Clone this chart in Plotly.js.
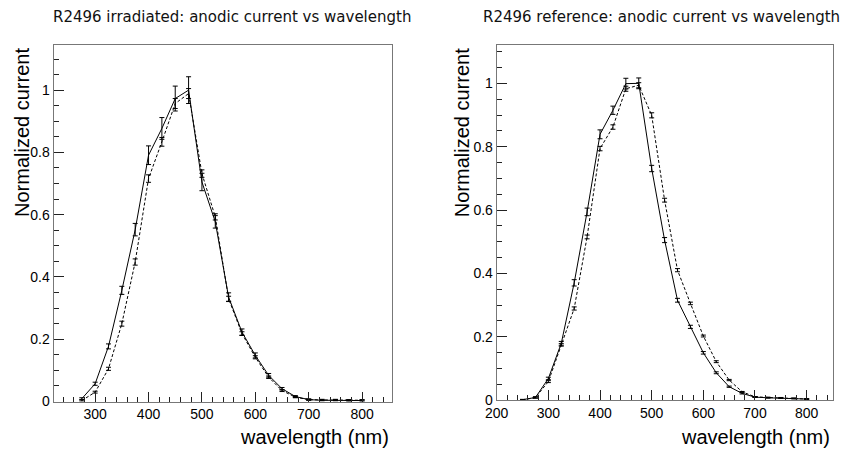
<!DOCTYPE html>
<html>
<head>
<meta charset="utf-8">
<script src="https://cdn.plot.ly/plotly-3.0.1.min.js"></script>
<style>html,body{margin:0;padding:0;background:#fff;}#chart{width:860px;height:451px;}</style>
</head>
<body>
<div id="chart"></div>
<script>
// wavelengths (nm)
const wavelength = [275,300,325,350,375,400,425,450,475,500,525,550,575,600,625,650,675,700,725,750,775,800];
const wavelengthRef = [250,275,300,325,350,375,400,425,450,475,500,525,550,575,600,625,650,675,700,725,750,775,800];

// Left panel: irradiated (solid) and second measurement (dashed)
const irrSolid = [0.009,0.057,0.177,0.357,0.552,0.791,0.877,0.973,1.0,0.705,0.577,0.335,0.223,0.148,0.084,0.041,0.016,0.006,0.004,0.004,0.003,0.003];
const irrSolidErr = [0.003,0.005,0.008,0.013,0.02,0.03,0.035,0.04,0.043,0.028,0.02,0.014,0.01,0.008,0.006,0.004,0.003,0.002,0.002,0.002,0.002,0.002];
const irrDashed = [0.003,0.03,0.105,0.25,0.448,0.716,0.834,0.957,0.989,0.732,0.593,0.33,0.218,0.142,0.078,0.035,0.014,0.006,0.005,0.005,0.004,0.004];
const irrDashedErr = [0.002,0.003,0.005,0.008,0.01,0.012,0.014,0.016,0.016,0.012,0.01,0.008,0.006,0.005,0.004,0.003,0.002,0.002,0.002,0.002,0.002,0.002];

// Right panel: reference tube
const refSolid = [0.001,0.008,0.068,0.179,0.37,0.594,0.839,0.915,0.999,1.0,0.731,0.505,0.315,0.231,0.149,0.086,0.042,0.021,0.009,0.007,0.006,0.005,0.003];
const refSolidErr = [0.001,0.002,0.004,0.006,0.01,0.012,0.014,0.013,0.017,0.017,0.01,0.008,0.006,0.005,0.004,0.003,0.002,0.002,0.001,0.001,0.001,0.001,0.001];
const refDashed = [0.0,0.008,0.058,0.174,0.289,0.515,0.794,0.862,0.983,0.994,0.899,0.631,0.41,0.305,0.202,0.121,0.063,0.026,0.01,0.008,0.007,0.005,0.003];
const refDashedErr = [0.001,0.002,0.003,0.004,0.005,0.006,0.007,0.007,0.008,0.008,0.008,0.006,0.005,0.004,0.003,0.003,0.002,0.001,0.001,0.001,0.001,0.001,0.001];

const titles = ["R2496 irradiated: anodic current vs wavelength", "R2496 reference: anodic current vs wavelength"];
const xTitle = "wavelength (nm)";
const yTitle = "Normalized current";

function tr(x, y, e, dash, xa, ya) {
  return {
    x: x, y: y, type: 'scatter', mode: 'lines', xaxis: xa, yaxis: ya,
    line: {color: '#000', width: 1, dash: dash},
    error_y: {type: 'data', array: e, visible: true, color: '#000', thickness: 1, width: 2.5},
    showlegend: false, hoverinfo: 'skip'
  };
}

const data = [
  tr(wavelength, irrDashed, irrDashedErr, '3px,2px', 'x', 'y'),
  tr(wavelength, irrSolid, irrSolidErr, 'solid', 'x', 'y'),
  tr(wavelengthRef, refDashed, refDashedErr, '3px,2px', 'x2', 'y2'),
  tr(wavelengthRef, refSolid, refSolidErr, 'solid', 'x2', 'y2')
];

const tickFont = {family: 'Liberation Sans, Arial, sans-serif', size: 14, color: '#000'};
function xax(domain, range, anchor) {
  return {domain: domain, range: range, anchor: anchor, showgrid: false, zeroline: false,
    showline: true, mirror: true, linecolor: '#777', linewidth: 1,
    ticks: 'inside', ticklen: 10, tickcolor: '#222', tickwidth: 1,
    tick0: 0, dtick: 100, tickfont: tickFont,
    minor: {ticks: 'inside', ticklen: 5, dtick: 20, tick0: 0, tickcolor: '#222', showgrid: false}};
}
function yax(domain, range, anchor) {
  return {domain: domain, range: range, anchor: anchor, showgrid: false, zeroline: false,
    showline: true, mirror: true, linecolor: '#777', linewidth: 1,
    ticks: 'inside', ticklen: 10, tickcolor: '#222', tickwidth: 1,
    tick0: 0, dtick: 0.2, tickfont: tickFont, tickformat: '~g',
    minor: {ticks: 'inside', ticklen: 5, dtick: 0.05, tick0: 0, tickcolor: '#222', showgrid: false}};
}

const W = 860, H = 451;
const px = v => v / W, py = v => (H - v) / H;

const titleFont = {family: 'DejaVu Sans, sans-serif', size: 15, color: '#111'};
const axTitleFont = {family: 'Liberation Sans, Arial, sans-serif', size: 20, color: '#000'};

const layout = {
  width: W, height: H,
  margin: {l: 0, r: 0, t: 0, b: 0},
  paper_bgcolor: '#fff', plot_bgcolor: '#fff',
  xaxis: xax([px(53.5), px(392)], [222, 856], 'y'),
  yaxis: yax([py(401.5), py(45)], [0, 1.145], 'x'),
  xaxis2: xax([px(496.7), px(833)], [200, 851], 'y2'),
  yaxis2: yax([py(400), py(44.7)], [0, 1.122], 'x2'),
  annotations: [
    {text: titles[0], xref: 'paper', yref: 'paper', x: px(232.5), y: py(17), xanchor: 'center', yanchor: 'middle', showarrow: false, font: titleFont},
    {text: titles[1], xref: 'paper', yref: 'paper', x: px(661.7), y: py(17), xanchor: 'center', yanchor: 'middle', showarrow: false, font: titleFont},
    {text: xTitle, xref: 'paper', yref: 'paper', x: px(391), y: py(436.5), xanchor: 'right', yanchor: 'middle', showarrow: false, font: axTitleFont},
    {text: xTitle, xref: 'paper', yref: 'paper', x: px(832), y: py(436.5), xanchor: 'right', yanchor: 'middle', showarrow: false, font: axTitleFont},
    {text: yTitle, xref: 'paper', yref: 'paper', x: px(21.5), y: py(46), xanchor: 'center', yanchor: 'top', textangle: -90, showarrow: false, font: axTitleFont},
    {text: yTitle, xref: 'paper', yref: 'paper', x: px(461.7), y: py(46), xanchor: 'center', yanchor: 'top', textangle: -90, showarrow: false, font: axTitleFont}
  ]
};

Plotly.newPlot('chart', data, layout, {staticPlot: true, displayModeBar: false});
</script>
</body>
</html>
